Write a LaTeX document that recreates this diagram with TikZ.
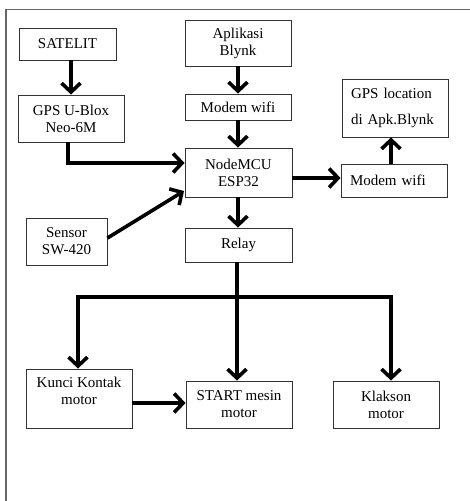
\documentclass[tikz,border=0pt]{standalone}
\usepackage{fontspec}
\setmainfont{Liberation Serif}
\usetikzlibrary{arrows.meta}
\begin{document}
\begin{tikzpicture}[x=1pt,y=-1pt,
  box/.style={draw=black!80,line width=0.9pt,rectangle,inner sep=0pt,align=center,
    font=\fontsize{15}{17}\selectfont},
  lbox/.style={box,align=left},
  txt/.style={inner sep=0pt,align=center,font=\fontsize{15}{17}\selectfont},
  arr/.style={line width=3.6pt,-{Straight Barb[length=9pt,width=19pt]}},
  ln/.style={line width=3.6pt}]
\useasboundingbox (0,0) rectangle (470,501);
\draw[black!60,line width=1.2pt] (6,501) -- (6,9.5) -- (470,9.5);
% boxes
\node[box,minimum width=97pt,minimum height=32pt] (sat) at (67.5,44) {SATELIT};
\node[box,minimum width=106pt,minimum height=47pt] (gps) at (71,118.5) {GPS U-Blox\\Neo-6M};
\node[box,minimum width=106pt,minimum height=46pt] (app) at (238,43) {Aplikasi\\Blynk};
\node[box,minimum width=106pt,minimum height=26pt] (mw1) at (238,107) {Modem wifi};
\node[box,minimum width=107pt,minimum height=49pt] (mcu) at (238.5,172.5) {NodeMCU\\ESP32};
\node[box,minimum width=107pt,minimum height=34pt] (rel) at (238.5,245) {Relay};
\node[box,minimum width=81pt,minimum height=47pt] (sen) at (66.5,241.5) {Sensor\\SW-420};
\node[lbox,minimum width=106pt,minimum height=58pt,text width=88pt,font=\fontsize{15}{26}\selectfont] (loc) at (395,108) {GPS location\\di Apk.Blynk};
\node[lbox,minimum width=106pt,minimum height=33pt,text width=88pt] (mw2) at (394,180.5) {Modem wifi};
\node[box,minimum width=106pt,minimum height=59pt] (kun) at (79,398.5) {};
\node[txt] (kuntxt) at (79,391) {Kunci Kontak\\motor};
\node[box,minimum width=106pt,minimum height=47pt] (sta) at (239,404.5) {START mesin\\motor};
\node[box,minimum width=106pt,minimum height=47pt] (kla) at (386,404.5) {Klakson\\motor};
% junction coordinates
\coordinate (gpsturn) at (68,163);
\coordinate (split) at (237,297);
\coordinate (leftturn) at (78,297);
\coordinate (rightturn) at (391,297);
% connectors
\draw[arr] (sat.south -| 71,0) -- (gps.north -| 71,0);
\draw[arr] (app.south -| 238,0) -- (mw1.north -| 238,0);
\draw[arr] (mw1.south -| 238,0) -- (mcu.north -| 238,0);
\draw[arr,line join=miter] (gps.south -| gpsturn) -- (gpsturn) -- (gpsturn -| mcu.west);
\draw[arr] (sen.east |- 0,238) -- (184,191);
\draw[arr] (mcu.east |- 0,178) -- (mw2.west |- 0,178);
\draw[arr] (mw2.north -| 391,0) -- (loc.south -| 391,0);
\draw[arr] (mcu.south -| 238,0) -- (rel.north -| 238,0);
\draw[arr] (rel.south -| split) -- (sta.north -| split);
\draw[ln,line join=miter] (leftturn) -- (rightturn);
\draw[arr,line join=miter] (split) -- (leftturn) -- (kun.north -| leftturn);
\draw[arr,line join=miter] (split) -- (rightturn) -- (kla.north -| rightturn);
\draw[arr] (kun.east |- 0,403) -- (sta.west |- 0,403);
\end{tikzpicture}
\end{document}
